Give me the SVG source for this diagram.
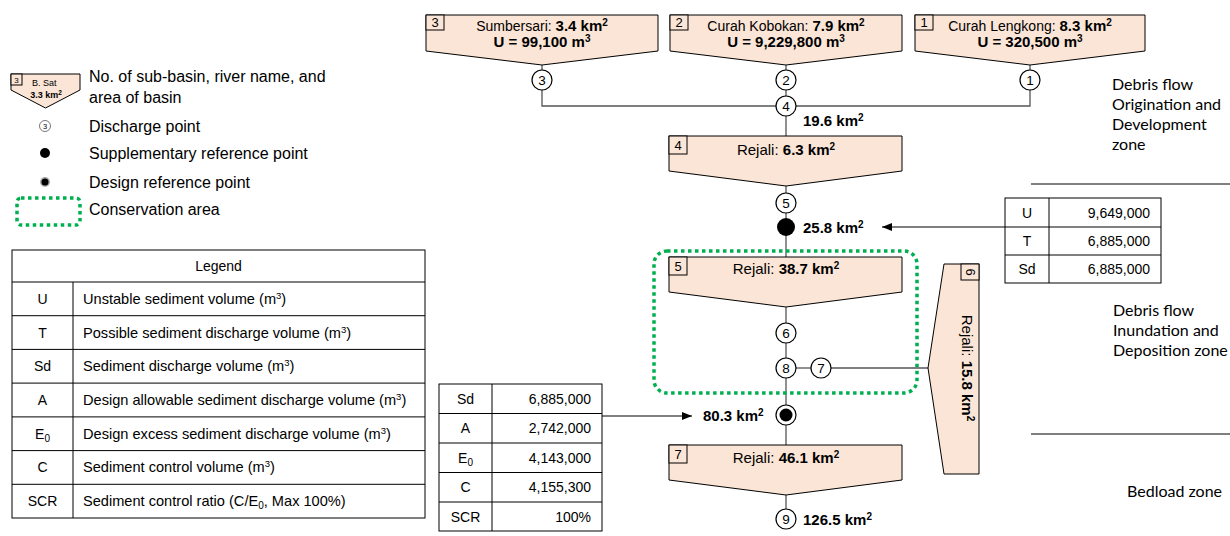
<svg xmlns="http://www.w3.org/2000/svg" width="1230" height="536" viewBox="0 0 1230 536">
<style>
text{font-family:"Liberation Sans",Arial,sans-serif;fill:#000}
.box{fill:#fbe5d6;stroke:#000;stroke-width:1}
.nb{fill:#fbe5d6;stroke:#000;stroke-width:1}
.nt{font-size:13px}
.bt{font-size:15px;text-anchor:middle}
.b{font-weight:bold}
.s{font-size:10px}
.cir{fill:#fff;stroke:#000;stroke-width:1.2}
.cn{font-size:13.5px;text-anchor:middle}
.km{font-size:15px;font-weight:bold}
.con{stroke:#555;stroke-width:1.3;fill:none}
.arr{stroke:#000;stroke-width:1.2;fill:none}
.tb{fill:#fff;stroke:#000;stroke-width:1}
.tl{stroke:#000;stroke-width:1}
.td{font-size:14px}
.ld{font-size:14.6px}
.ts{font-size:9.5px}
.c{text-anchor:middle}
.r{text-anchor:end}
.zone{font-family:Lato,"Open Sans",sans-serif;font-size:16px}
.lg{font-size:16px}
.green{fill:none;stroke:#00b050;stroke-width:3.5;stroke-dasharray:3.5 3.5}
</style>
<defs>
<marker id="ah" viewBox="0 0 10 10" refX="10" refY="5" markerWidth="10" markerHeight="10" markerUnits="userSpaceOnUse" orient="auto"><path d="M0,1 L10,5 L0,9 z" fill="#000"/></marker>
</defs>

<!-- Symbol legend -->
<g id="symbol-legend">
<polygon class="box" points="11,74 80,74 80,90 45.5,108 11,90"/>
<rect class="nb" x="11" y="74" width="11" height="11"/>
<text x="16.5" y="83" font-size="8" text-anchor="middle">3</text>
<text x="32" y="86" font-size="9">B. Sat</text>
<text x="46" y="98" font-size="9" font-weight="bold" text-anchor="middle">3.3 km<tspan font-size="6.5" dy="-3">2</tspan></text>
<text class="lg" x="89" y="82">No. of sub-basin, river name, and</text>
<text class="lg" x="89" y="103">area of basin</text>
<circle cx="45" cy="126" r="5.5" fill="#fff" stroke="#555" stroke-width="0.8"/>
<text x="45" y="129" font-size="7.5" text-anchor="middle">3</text>
<text class="lg" x="89" y="132">Discharge point</text>
<circle cx="45" cy="153" r="5" fill="#000"/>
<text class="lg" x="89" y="159">Supplementary reference point</text>
<circle cx="45" cy="182" r="5" fill="#aaa"/>
<circle cx="45" cy="182" r="3.5" fill="#000"/>
<text class="lg" x="89" y="188">Design reference point</text>
<rect class="green" x="17" y="198" width="63" height="27" rx="4" stroke-width="3" stroke-dasharray="3 3"/>
<text class="lg" x="89" y="215">Conservation area</text>
</g>

<!-- Legend table -->
<g id="legend-table">
<rect class="tb" x="12" y="250" width="413" height="268"/>
<line class="tl" x1="12" y1="282" x2="425" y2="282"/>
<line class="tl" x1="12" y1="315.7" x2="425" y2="315.7"/>
<line class="tl" x1="12" y1="349.4" x2="425" y2="349.4"/>
<line class="tl" x1="12" y1="383.1" x2="425" y2="383.1"/>
<line class="tl" x1="12" y1="416.9" x2="425" y2="416.9"/>
<line class="tl" x1="12" y1="450.6" x2="425" y2="450.6"/>
<line class="tl" x1="12" y1="484.3" x2="425" y2="484.3"/>
<line class="tl" x1="73" y1="282" x2="73" y2="518"/>
<text class="td c" x="218.5" y="271">Legend</text>
<text class="td c" x="42.5" y="304">U</text>
<text class="ld" x="83" y="304">Unstable sediment volume  (m<tspan class="ts" dy="-5">3</tspan><tspan dy="5">)</tspan></text>
<text class="td c" x="42.5" y="337.5">T</text>
<text class="ld" x="83" y="337.5">Possible sediment discharge volume  (m<tspan class="ts" dy="-5">3</tspan><tspan dy="5">)</tspan></text>
<text class="td c" x="42.5" y="371">Sd</text>
<text class="ld" x="83" y="371">Sediment discharge volume (m<tspan class="ts" dy="-5">3</tspan><tspan dy="5">)</tspan></text>
<text class="td c" x="42.5" y="405">A</text>
<text class="ld" x="83" y="405">Design allowable sediment discharge volume  (m<tspan class="ts" dy="-5">3</tspan><tspan dy="5">)</tspan></text>
<text class="td c" x="42.5" y="438.5">E<tspan font-size="10" dy="3">0</tspan></text>
<text class="ld" x="83" y="438.5">Design excess sediment discharge volume (m<tspan class="ts" dy="-5">3</tspan><tspan dy="5">)</tspan></text>
<text class="td c" x="42.5" y="472">C</text>
<text class="ld" x="83" y="472">Sediment control volume  (m<tspan class="ts" dy="-5">3</tspan><tspan dy="5">)</tspan></text>
<text class="td c" x="42.5" y="506">SCR</text>
<text class="ld" x="83" y="506">Sediment control  ratio (C/E<tspan font-size="10" dy="3">0</tspan><tspan dy="-3">, Max 100%)</tspan></text>
</g>

<!-- Zone labels -->
<g id="zones">
<text class="zone" x="1112" y="90">Debris flow</text>
<text class="zone" x="1112" y="110">Origination and</text>
<text class="zone" x="1112" y="130">Development</text>
<text class="zone" x="1112" y="150">zone</text>
<line class="tl" x1="1031" y1="184" x2="1230" y2="184"/>
<text class="zone" x="1113" y="316">Debris flow</text>
<text class="zone" x="1113" y="336">Inundation and</text>
<text class="zone" x="1113" y="356">Deposition zone</text>
<line class="tl" x1="1031" y1="434" x2="1230" y2="434"/>
<text class="zone" x="1127" y="497">Bedload zone</text>
</g>

<!-- Connectors -->
<g id="connectors">
<line class="con" x1="542" y1="65" x2="542" y2="70"/>
<polyline class="con" points="542,90 542,106 1030,106 1030,90"/>
<line class="con" x1="1030" y1="65" x2="1030" y2="70"/>
<line class="con" x1="786" y1="65" x2="786" y2="70"/>
<line class="con" x1="786" y1="90" x2="786" y2="96"/>
<line class="con" x1="786" y1="116" x2="786" y2="136"/>
<line class="con" x1="786" y1="186" x2="786" y2="193"/>
<line class="con" x1="786" y1="213" x2="786" y2="257"/>
<line class="con" x1="786" y1="307" x2="786" y2="323"/>
<line class="con" x1="786" y1="343" x2="786" y2="358"/>
<line class="con" x1="796" y1="368" x2="811" y2="368"/>
<line class="arr" x1="831" y1="368" x2="928" y2="368"/>
<line class="con" x1="786" y1="378" x2="786" y2="405"/>
<line class="con" x1="786" y1="425" x2="786" y2="445"/>
<line class="con" x1="786" y1="495" x2="786" y2="509"/>
<line class="arr" x1="1005" y1="227" x2="882" y2="227" marker-end="url(#ah)"/>
<line class="arr" x1="602" y1="416" x2="692" y2="416" marker-end="url(#ah)"/>
</g>

<!-- Conservation area -->
<g id="conservation-area">
<rect class="green" x="654" y="251" width="263" height="142" rx="13"/>
</g>

<!-- Sub-basin nodes -->
<g id="basin-3">
<polygon class="box" points="426,15 658,15 658,51 542,65 426,51"/>
<rect class="nb" x="426" y="15" width="18" height="15"/>
<text class="nt" x="435" y="27" text-anchor="middle">3</text>
<text class="bt" x="542" y="31"><tspan font-size="14">Sumbersari: </tspan><tspan class="b">3.4 km<tspan class="s" dy="-5">2</tspan></tspan></text>
<text class="bt b" x="542" y="47">U = 99,100 m<tspan class="s" dy="-5">3</tspan></text>
</g>
<g id="basin-2">
<polygon class="box" points="670,15 902,15 902,51 786,65 670,51"/>
<rect class="nb" x="670" y="15" width="18" height="15"/>
<text class="nt" x="679" y="27" text-anchor="middle">2</text>
<text class="bt" x="786" y="31"><tspan font-size="14">Curah Kobokan: </tspan><tspan class="b">7.9 km<tspan class="s" dy="-5">2</tspan></tspan></text>
<text class="bt b" x="786" y="47">U = 9,229,800 m<tspan class="s" dy="-5">3</tspan></text>
</g>
<g id="basin-1">
<polygon class="box" points="915,15 1145,15 1145,51 1030,65 915,51"/>
<rect class="nb" x="915" y="15" width="18" height="15"/>
<text class="nt" x="924" y="27" text-anchor="middle">1</text>
<text class="bt" x="1030" y="31"><tspan font-size="14">Curah Lengkong: </tspan><tspan class="b">8.3 km<tspan class="s" dy="-5">2</tspan></tspan></text>
<text class="bt b" x="1030" y="47">U = 320,500 m<tspan class="s" dy="-5">3</tspan></text>
</g>
<g id="basin-4">
<polygon class="box" points="669,136 902,136 902,171 786,186 669,171"/>
<rect class="nb" x="669" y="136" width="18" height="18"/>
<text class="nt" x="678" y="150" text-anchor="middle">4</text>
<text class="bt" x="786" y="155">Rejali: <tspan class="b">6.3 km<tspan class="s" dy="-5">2</tspan></tspan></text>
</g>
<g id="basin-5">
<polygon class="box" points="669,257 902,257 902,292 786,307 669,292"/>
<rect class="nb" x="669" y="257" width="18" height="18"/>
<text class="nt" x="678" y="271" text-anchor="middle">5</text>
<text class="bt" x="786" y="274">Rejali: <tspan class="b">38.7 km<tspan class="s" dy="-5">2</tspan></tspan></text>
</g>
<g id="basin-6">
<polygon class="box" points="944,264 979,264 979,474 944,474 928,368"/>
<rect class="nb" x="961" y="264" width="18" height="16"/>
<text class="nt" transform="translate(970,272) rotate(90)" x="0" y="4.5" text-anchor="middle">6</text>
<text class="bt" transform="translate(967,368) rotate(90)" x="0" y="5">Rejali: <tspan class="b">15.8 km<tspan class="s" dy="-5">2</tspan></tspan></text>
</g>
<g id="basin-7">
<polygon class="box" points="669,445 902,445 902,480 786,495 669,480"/>
<rect class="nb" x="669" y="445" width="18" height="18"/>
<text class="nt" x="678" y="459" text-anchor="middle">7</text>
<text class="bt" x="786" y="463">Rejali: <tspan class="b">46.1 km<tspan class="s" dy="-5">2</tspan></tspan></text>
</g>

<!-- Points -->
<g id="point-3"><circle class="cir" cx="542" cy="80" r="10"/><text class="cn" x="542" y="84.5">3</text></g>
<g id="point-2"><circle class="cir" cx="786" cy="80" r="10"/><text class="cn" x="786" y="84.5">2</text></g>
<g id="point-1"><circle class="cir" cx="1030" cy="80" r="10"/><text class="cn" x="1030" y="84.5">1</text></g>
<g id="point-4"><circle class="cir" cx="786" cy="106" r="10"/><text class="cn" x="786" y="110.5">4</text>
<text class="km" x="803" y="126">19.6 km<tspan class="s" dy="-5">2</tspan></text></g>
<g id="point-5"><circle class="cir" cx="786" cy="203" r="10"/><text class="cn" x="786" y="207.5">5</text></g>
<g id="supp-ref"><circle cx="786" cy="227" r="9" fill="#000"/>
<text class="km" x="803" y="233">25.8 km<tspan class="s" dy="-5">2</tspan></text></g>
<g id="point-6"><circle class="cir" cx="786" cy="333" r="10"/><text class="cn" x="786" y="337.5">6</text></g>
<g id="point-8"><circle class="cir" cx="786" cy="368" r="10"/><text class="cn" x="786" y="372.5">8</text></g>
<g id="point-7"><circle class="cir" cx="821" cy="368" r="10"/><text class="cn" x="821" y="372.5">7</text></g>
<g id="design-ref"><circle class="cir" cx="786" cy="415" r="10"/><circle cx="786" cy="415" r="6.5" fill="#000"/>
<text class="km" x="703" y="421">80.3 km<tspan class="s" dy="-5">2</tspan></text></g>
<g id="point-9"><circle class="cir" cx="786" cy="519" r="10"/><text class="cn" x="786" y="523.5">9</text>
<text class="km" x="803" y="525">126.5 km<tspan class="s" dy="-5">2</tspan></text></g>

<!-- Data tables -->
<g id="table-supp">
<rect class="tb" x="1005" y="198" width="156" height="85"/>
<line class="tl" x1="1005" y1="227" x2="1161" y2="227"/>
<line class="tl" x1="1005" y1="255" x2="1161" y2="255"/>
<line class="tl" x1="1049" y1="198" x2="1049" y2="283"/>
<text class="td c" x="1027" y="218">U</text><text class="td r" x="1150" y="218">9,649,000</text>
<text class="td c" x="1027" y="246">T</text><text class="td r" x="1150" y="246">6,885,000</text>
<text class="td c" x="1027" y="274">Sd</text><text class="td r" x="1150" y="274">6,885,000</text>
</g>
<g id="table-design">
<rect class="tb" x="439" y="384" width="163" height="147"/>
<line class="tl" x1="439" y1="413.5" x2="602" y2="413.5"/>
<line class="tl" x1="439" y1="443" x2="602" y2="443"/>
<line class="tl" x1="439" y1="472.5" x2="602" y2="472.5"/>
<line class="tl" x1="439" y1="502" x2="602" y2="502"/>
<line class="tl" x1="492" y1="384" x2="492" y2="531"/>
<text class="td c" x="465.5" y="403.5">Sd</text><text class="td r" x="591" y="403.5">6,885,000</text>
<text class="td c" x="465.5" y="433">A</text><text class="td r" x="591" y="433">2,742,000</text>
<text class="td c" x="465.5" y="462.5">E<tspan font-size="10" dy="3">0</tspan></text><text class="td r" x="591" y="462.5">4,143,000</text>
<text class="td c" x="465.5" y="492">C</text><text class="td r" x="591" y="492">4,155,300</text>
<text class="td c" x="465.5" y="521.5">SCR</text><text class="td r" x="591" y="521.5">100%</text>
</g>
</svg>
